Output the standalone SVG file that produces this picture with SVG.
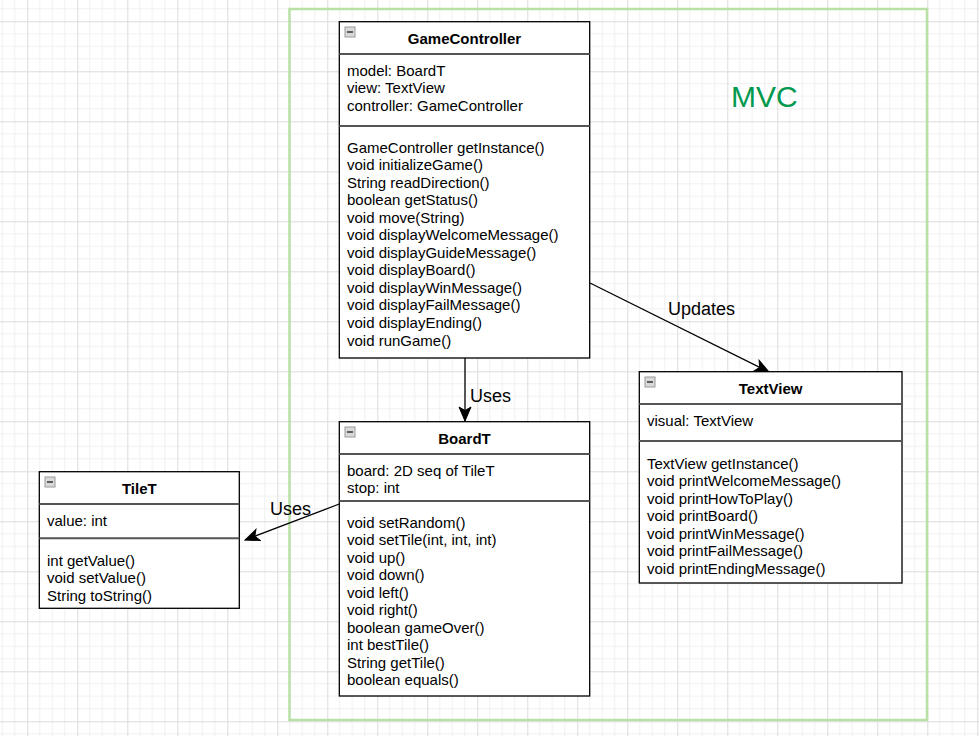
<svg xmlns="http://www.w3.org/2000/svg" width="979" height="736" viewBox="0 0 979 736">
<defs>
<pattern id="grid" x="27.3" y="21.3" width="50" height="50" patternUnits="userSpaceOnUse">
<path d="M12.5,0V50M25,0V50M37.5,0V50M0,12.5H50M0,25H50M0,37.5H50" stroke="#f0f0f0" stroke-width="1" fill="none"/>
<path d="M0.5,0V50M0,0.5H50" stroke="#dcdcdc" stroke-width="1" fill="none"/>
</pattern>
<marker id="arr" markerUnits="userSpaceOnUse" markerWidth="16" markerHeight="14" viewBox="0 0 16 14" refX="15" refY="7" orient="auto">
<path d="M1,1 L15,7 L1,13 L4.5,7 Z" fill="#000" stroke="#000" stroke-width="1"/>
</marker>
<g id="icon">
<rect x="0" y="0" width="10" height="10" fill="#d9d9d9" stroke="#9a9a9a" stroke-width="1"/>
<line x1="2" y1="5" x2="8" y2="5" stroke="#333" stroke-width="1.5"/>
</g>
</defs>
<style>
.box{fill:#fff;stroke:#000;stroke-width:1.3}
.sep{stroke:#555;stroke-width:2}
.t{font-family:"Liberation Sans",Arial,sans-serif;font-size:15px;fill:#000}
.h{font-family:"Liberation Sans",Arial,sans-serif;font-size:15px;font-weight:bold;fill:#000;text-anchor:middle}
.lbl{font-family:"Liberation Sans",Arial,sans-serif;font-size:18px;fill:#000}
.edge{stroke:#000;stroke-width:1.3;fill:none;marker-end:url(#arr)}
</style>
<rect width="979" height="736" fill="#fff"/>
<rect width="979" height="736" fill="url(#grid)"/>

<g id="mvc">
<rect x="289.5" y="9" width="637.5" height="711" fill="none" stroke="#b9e0a5" stroke-width="2.5"/>
<text x="731" y="107" style="font-family:'Liberation Sans',Arial,sans-serif;font-size:30px;fill:#00994d">MVC</text>
</g>

<g id="connectors">
<line class="edge" x1="465" y1="358" x2="465" y2="421"/>
<line class="edge" x1="590" y1="283" x2="769" y2="372"/>
<line class="edge" x1="339.3" y1="504" x2="245" y2="540"/>
<text class="lbl" x="470" y="402">Uses</text>
<text class="lbl" x="668" y="315">Updates</text>
<text class="lbl" x="270" y="515">Uses</text>
</g>

<g id="GameController">
<rect class="box" x="339.3" y="21.7" width="250.4" height="336.3"/>
<line class="sep" x1="339.3" y1="54" x2="589.7" y2="54"/>
<line class="sep" x1="339.3" y1="126" x2="589.7" y2="126" stroke-width="1.5" stroke="#222"/>
<use href="#icon" x="345" y="27"/>
<text class="h" x="464.5" y="43.5">GameController</text>
<text class="t" x="347" y="75.5">model: BoardT</text>
<text class="t" x="347" y="93">view: TextView</text>
<text class="t" x="347" y="110.5">controller: GameController</text>
<text class="t" x="347" y="152.5">GameController getInstance()</text>
<text class="t" x="347" y="170">void initializeGame()</text>
<text class="t" x="347" y="187.6">String readDirection()</text>
<text class="t" x="347" y="205.1">boolean getStatus()</text>
<text class="t" x="347" y="222.7">void move(String)</text>
<text class="t" x="347" y="240.2">void displayWelcomeMessage()</text>
<text class="t" x="347" y="257.8">void displayGuideMessage()</text>
<text class="t" x="347" y="275.3">void displayBoard()</text>
<text class="t" x="347" y="292.9">void displayWinMessage()</text>
<text class="t" x="347" y="310.4">void displayFailMessage()</text>
<text class="t" x="347" y="328">void displayEnding()</text>
<text class="t" x="347" y="345.5">void runGame()</text>
</g>

<g id="TextView">
<rect class="box" x="639.3" y="371.7" width="262.7" height="211.3"/>
<line class="sep" x1="639.3" y1="404" x2="902" y2="404"/>
<line class="sep" x1="639.3" y1="441" x2="902" y2="441" stroke-width="1.5" stroke="#222"/>
<use href="#icon" x="645" y="377"/>
<text class="h" x="770.6" y="393.5">TextView</text>
<text class="t" x="647" y="425.5">visual: TextView</text>
<text class="t" x="647" y="468.5">TextView getInstance()</text>
<text class="t" x="647" y="486">void printWelcomeMessage()</text>
<text class="t" x="647" y="503.5">void printHowToPlay()</text>
<text class="t" x="647" y="521">void printBoard()</text>
<text class="t" x="647" y="538.5">void printWinMessage()</text>
<text class="t" x="647" y="556">void printFailMessage()</text>
<text class="t" x="647" y="573.5">void printEndingMessage()</text>
</g>

<g id="TileT">
<rect class="box" x="39.3" y="471.7" width="200" height="136.6"/>
<line class="sep" x1="39.3" y1="504" x2="239.3" y2="504"/>
<line class="sep" x1="39.3" y1="538.3" x2="239.3" y2="538.3"/>
<use href="#icon" x="45" y="477"/>
<text class="h" x="139.3" y="493.5">TileT</text>
<text class="t" x="47" y="525.5">value: int</text>
<text class="t" x="47" y="565.5">int getValue()</text>
<text class="t" x="47" y="583">void setValue()</text>
<text class="t" x="47" y="600.5">String toString()</text>
</g>

<g id="BoardT">
<rect class="box" x="339.3" y="421.7" width="250.4" height="274.3"/>
<line class="sep" x1="339.3" y1="454" x2="589.7" y2="454"/>
<line class="sep" x1="339.3" y1="501" x2="589.7" y2="501" stroke-width="1.5" stroke="#222"/>
<use href="#icon" x="345" y="427"/>
<text class="h" x="464.5" y="443.5">BoardT</text>
<text class="t" x="347" y="475.5">board: 2D seq of TileT</text>
<text class="t" x="347" y="493">stop: int</text>
<text class="t" x="347" y="527.5">void setRandom()</text>
<text class="t" x="347" y="545">void setTile(int, int, int)</text>
<text class="t" x="347" y="562.5">void up()</text>
<text class="t" x="347" y="580">void down()</text>
<text class="t" x="347" y="597.5">void left()</text>
<text class="t" x="347" y="615">void right()</text>
<text class="t" x="347" y="632.5">boolean gameOver()</text>
<text class="t" x="347" y="650">int bestTile()</text>
<text class="t" x="347" y="667.5">String getTile()</text>
<text class="t" x="347" y="685">boolean equals()</text>
</g>
</svg>
